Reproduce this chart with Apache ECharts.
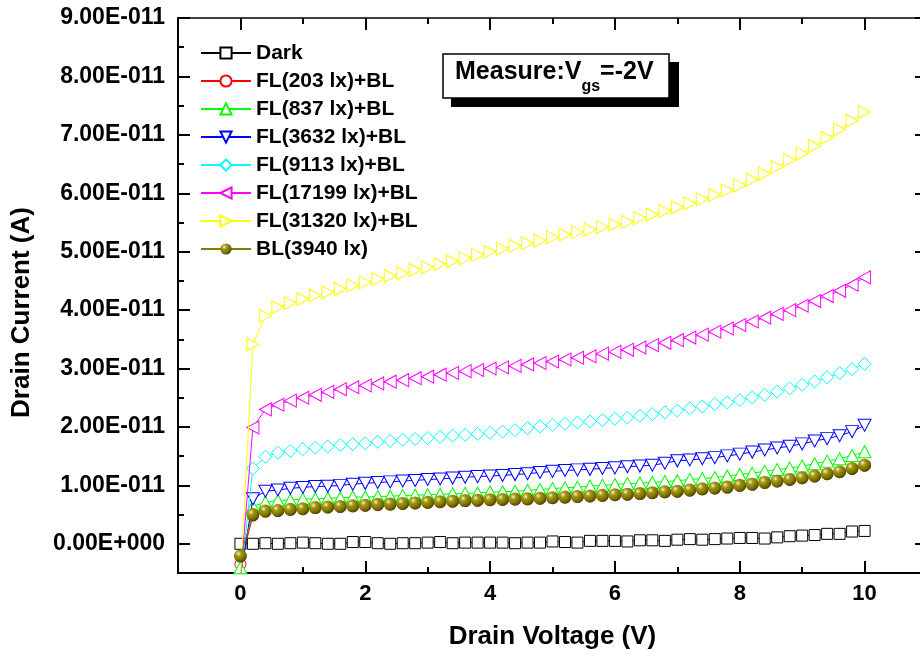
<!DOCTYPE html>
<html>
<head>
<meta charset="utf-8">
<title>Drain Current vs Drain Voltage</title>
<script src="https://cdn.jsdelivr.net/npm/echarts@6/dist/echarts.min.js"></script>
<style>
html, body { margin: 0; padding: 0; background: #fff; }
#chart { width: 920px; height: 662px; }
</style>
</head>
<body>
<div id="chart"></div>
<script>
// drain voltage (V)
const voltage = [0, 0.2, 0.4, 0.6, 0.8, 1.0, 1.2, 1.4, 1.6, 1.8, 2.0, 2.2, 2.4, 2.6, 2.8, 3.0, 3.2, 3.4, 3.6, 3.8,
    4.0, 4.2, 4.4, 4.6, 4.8, 5.0, 5.2, 5.4, 5.6, 5.8, 6.0, 6.2, 6.4, 6.6, 6.8, 7.0, 7.2, 7.4, 7.6, 7.8,
    8.0, 8.2, 8.4, 8.6, 8.8, 9.0, 9.2, 9.4, 9.6, 9.8, 10.0];

// drain current, in units of 1E-011 A
const dark = [0.00, 0.00, 0.01, 0.00, 0.01, 0.02, 0.01, 0.00, 0.00, 0.03, 0.03, 0.01, 0.00, 0.01, 0.01, 0.02, 0.03, 0.01, 0.02, 0.02,
    0.02, 0.02, 0.01, 0.02, 0.02, 0.04, 0.03, 0.02, 0.05, 0.05, 0.05, 0.04, 0.06, 0.06, 0.05, 0.07, 0.08, 0.07, 0.08, 0.09,
    0.10, 0.10, 0.09, 0.11, 0.13, 0.14, 0.15, 0.17, 0.17, 0.21, 0.22];
const fl203 = [-0.35, 0.48, 0.55, 0.56, 0.58, 0.59, 0.61, 0.62, 0.63, 0.64, 0.65, 0.66, 0.67, 0.68, 0.69, 0.70, 0.71, 0.72, 0.73, 0.735,
    0.745, 0.75, 0.755, 0.76, 0.77, 0.78, 0.79, 0.80, 0.81, 0.82, 0.83, 0.84, 0.85, 0.865, 0.88, 0.89, 0.91, 0.93, 0.945, 0.96,
    0.99, 1.01, 1.04, 1.065, 1.09, 1.12, 1.15, 1.19, 1.225, 1.28, 1.335];
const fl837 = [-0.41, 0.64, 0.71, 0.74, 0.75, 0.765, 0.77, 0.78, 0.785, 0.80, 0.80, 0.81, 0.815, 0.825, 0.83, 0.84, 0.845, 0.855, 0.865, 0.87,
    0.885, 0.89, 0.90, 0.915, 0.93, 0.945, 0.96, 0.97, 0.985, 1.00, 1.015, 1.03, 1.04, 1.05, 1.065, 1.08, 1.10, 1.115, 1.135, 1.16,
    1.185, 1.21, 1.24, 1.27, 1.295, 1.33, 1.37, 1.415, 1.455, 1.51, 1.575];
const fl3632 = [-0.55, 0.77, 0.90, 0.92, 0.95, 0.965, 0.98, 0.985, 1.00, 1.02, 1.035, 1.05, 1.06, 1.075, 1.085, 1.10, 1.11, 1.125, 1.14, 1.15,
    1.16, 1.17, 1.185, 1.20, 1.22, 1.24, 1.255, 1.265, 1.275, 1.29, 1.30, 1.32, 1.33, 1.345, 1.38, 1.42, 1.435, 1.455, 1.475, 1.505,
    1.535, 1.57, 1.605, 1.64, 1.67, 1.71, 1.76, 1.80, 1.85, 1.92, 2.03];
const fl9113 = [-0.6, 1.29, 1.49, 1.56, 1.59, 1.62, 1.645, 1.665, 1.69, 1.705, 1.72, 1.745, 1.76, 1.78, 1.795, 1.81, 1.83, 1.85, 1.865, 1.88,
    1.90, 1.92, 1.945, 1.98, 2.01, 2.035, 2.055, 2.075, 2.095, 2.115, 2.14, 2.16, 2.19, 2.22, 2.25, 2.28, 2.32, 2.35, 2.39, 2.42,
    2.46, 2.505, 2.55, 2.605, 2.66, 2.72, 2.78, 2.85, 2.92, 2.99, 3.08];
const fl17199 = [-0.6, 1.99, 2.30, 2.38, 2.45, 2.50, 2.55, 2.60, 2.645, 2.68, 2.71, 2.745, 2.775, 2.80, 2.835, 2.86, 2.895, 2.925, 2.955, 2.975,
    3.00, 3.02, 3.045, 3.07, 3.095, 3.12, 3.155, 3.185, 3.21, 3.255, 3.285, 3.32, 3.36, 3.40, 3.44, 3.485, 3.53, 3.58, 3.63, 3.685,
    3.745, 3.805, 3.87, 3.935, 4.00, 4.075, 4.155, 4.24, 4.33, 4.435, 4.56];
const fl31320 = [-0.6, 3.41, 3.905, 4.05, 4.12, 4.19, 4.25, 4.305, 4.36, 4.42, 4.475, 4.53, 4.585, 4.63, 4.685, 4.73, 4.785, 4.835, 4.89, 4.945,
    5.00, 5.05, 5.10, 5.145, 5.19, 5.245, 5.29, 5.335, 5.375, 5.42, 5.465, 5.51, 5.575, 5.635, 5.695, 5.76, 5.825, 5.90, 5.97, 6.05,
    6.135, 6.235, 6.335, 6.45, 6.565, 6.68, 6.81, 6.95, 7.09, 7.24, 7.39];
const bl3940 = [-0.21, 0.50, 0.56, 0.57, 0.59, 0.60, 0.62, 0.63, 0.64, 0.65, 0.66, 0.675, 0.68, 0.69, 0.70, 0.71, 0.72, 0.73, 0.74, 0.745,
    0.755, 0.76, 0.765, 0.77, 0.78, 0.79, 0.80, 0.81, 0.82, 0.83, 0.84, 0.85, 0.86, 0.875, 0.89, 0.90, 0.92, 0.94, 0.955, 0.97,
    1.00, 1.02, 1.05, 1.075, 1.10, 1.13, 1.16, 1.20, 1.235, 1.29, 1.345];

const xLabelTicks = [0, 2, 4, 6, 8, 10];
const yLabelTicks = [0, 1, 2, 3, 4, 5, 6, 7, 8, 9];

const FONT = '"Liberation Sans", Arial, Helvetica, sans-serif';

const toPoints = values => voltage.map((v, i) => [v, values[i]]);

const yLabel = v => (v === 0 ? '0.00E+000' : v.toFixed(2) + 'E-011');

// one axis per tick size, all sharing the same range
const xAxisOf = (position, length, extra) => Object.assign({
    type: 'value',
    position: position,
    min: -1,
    max: 11,
    interval: 1,
    axisLine: { show: false, onZero: false },
    axisTick: { inside: true, length: length, lineStyle: { color: '#000', width: 2 } },
    axisLabel: { show: false },
    splitLine: { show: false }
}, extra);

const yAxisOf = (position, length, extra) => Object.assign({
    type: 'value',
    position: position,
    min: -0.5,
    max: 9,
    interval: 0.5,
    axisLine: { show: false, onZero: false },
    axisTick: { inside: true, length: length, lineStyle: { color: '#000', width: 2 } },
    axisLabel: { show: false },
    splitLine: { show: false }
}, extra);

const lineSeries = (name, values, symbol, size, color, z) => ({
    name: name,
    type: 'line',
    data: toPoints(values),
    symbol: symbol,
    symbolSize: size,
    showAllSymbol: true,
    z: z,
    lineStyle: { color: color, width: 1 },
    itemStyle: { color: '#fff', borderColor: color, borderWidth: 1 },
    emphasis: { disabled: true }
});

const ball = {
    type: 'radial',
    x: 0.35,
    y: 0.32,
    r: 0.7,
    colorStops: [
        { offset: 0, color: '#f6f2cc' },
        { offset: 0.3, color: '#a39a12' },
        { offset: 0.7, color: '#7c7400' },
        { offset: 1, color: '#4c4600' }
    ]
};

const series = [
    lineSeries('Dark', dark, 'rect', 11, '#000000', 2),
    lineSeries('FL(203 lx)+BL', fl203, 'circle', 11, '#ff0000', 3),
    lineSeries('FL(837 lx)+BL', fl837, 'triangle', [13, 12], '#00ff00', 4),
    lineSeries('FL(3632 lx)+BL', fl3632, 'path://M0,0L2,0L1,2Z', [13, 12], '#0000ff', 5),
    lineSeries('FL(9113 lx)+BL', fl9113, 'diamond', 13, '#00ffff', 6),
    lineSeries('FL(17199 lx)+BL', fl17199, 'path://M0,1L2,0L2,2Z', [12, 13], '#ff00ff', 7),
    lineSeries('FL(31320 lx)+BL', fl31320, 'path://M0,0L2,1L0,2Z', [12, 13], '#ffff00', 8),
    {
        name: 'BL(3940 lx)',
        type: 'line',
        data: toPoints(bl3940),
        symbol: 'circle',
        symbolSize: 13,
        showAllSymbol: true,
        z: 9,
        lineStyle: { color: '#808000', width: 1 },
        itemStyle: { color: ball, borderWidth: 0 },
        emphasis: { disabled: true }
    }
];

const chart = echarts.init(document.getElementById('chart'));

chart.setOption({
    animation: false,
    backgroundColor: '#fff',
    textStyle: { fontFamily: FONT },
    // the right frame edge sits just past the picture's right border
    grid: { left: 178, top: 18, width: 749, height: 555, containLabel: false, outerBoundsMode: 'none' },
    xAxis: [
        xAxisOf('bottom', 6, {
            axisLine: { show: true, onZero: false, lineStyle: { color: '#000', width: 2 } },
            axisLabel: {
                show: true,
                customValues: xLabelTicks,
                margin: 10,
                color: '#000',
                fontFamily: FONT,
                fontSize: 22,
                fontWeight: 'bold'
            },
            name: 'Drain Voltage (V)',
            nameLocation: 'middle',
            nameGap: 51,
            nameTextStyle: { color: '#000', fontFamily: FONT, fontSize: 26, fontWeight: 'bold' }
        }),
        xAxisOf('bottom', 12, { axisTick: { inside: true, length: 12, customValues: xLabelTicks, lineStyle: { color: '#000', width: 2 } } }),
        xAxisOf('top', 6, { axisLine: { show: true, onZero: false, lineStyle: { color: '#000', width: 1.5 } } }),
        xAxisOf('top', 12, { axisTick: { inside: true, length: 12, customValues: xLabelTicks, lineStyle: { color: '#000', width: 2 } } })
    ],
    yAxis: [
        yAxisOf('left', 6, {
            axisLine: { show: true, onZero: false, lineStyle: { color: '#000', width: 2 } },
            axisLabel: {
                show: true,
                customValues: yLabelTicks,
                formatter: yLabel,
                margin: 13,
                color: '#000',
                fontFamily: FONT,
                fontSize: 23,
                fontWeight: 'bold'
            },
            name: 'Drain Current (A)',
            nameLocation: 'middle',
            nameGap: 143,
            nameTextStyle: { color: '#000', fontFamily: FONT, fontSize: 26, fontWeight: 'bold', padding: [0, 34, 0, 0] }
        }),
        yAxisOf('left', 12, { axisTick: { inside: true, length: 12, customValues: yLabelTicks, lineStyle: { color: '#000', width: 2 } } }),
        yAxisOf('right', 6, { axisLine: { show: true, onZero: false, lineStyle: { color: '#000', width: 2 } } }),
        yAxisOf('right', 12, { axisTick: { inside: true, length: 12, customValues: yLabelTicks, lineStyle: { color: '#000', width: 2 } } })
    ],
    legend: {
        orient: 'vertical',
        left: 195,
        top: 37,
        itemWidth: 50,
        itemHeight: 14,
        itemGap: 6,
        textStyle: { color: '#000', fontFamily: FONT, fontSize: 21, fontWeight: 'bold', lineHeight: 22 },
        data: series.map(s => s.name)
    },
    graphic: [
        { type: 'rect', shape: { x: 451, y: 62, width: 228, height: 45 }, style: { fill: '#000' } },
        { type: 'rect', shape: { x: 443, y: 54, width: 226, height: 44 }, style: { fill: '#fff', stroke: '#000', lineWidth: 1.5 } },
        {
            type: 'text',
            x: 455,
            y: 72,
            style: {
                text: '{a|Measure:V}{b|gs}{a|=-2V}',
                verticalAlign: 'middle',
                align: 'left',
                rich: {
                    a: { fontFamily: FONT, fontSize: 25, fontWeight: 'bold', fill: '#000', lineHeight: 30 },
                    b: { fontFamily: FONT, fontSize: 16, fontWeight: 'bold', fill: '#000', lineHeight: 16, padding: [30, 0, 0, 0] }
                }
            }
        }
    ],
    series: series
});
</script>
</body>
</html>
